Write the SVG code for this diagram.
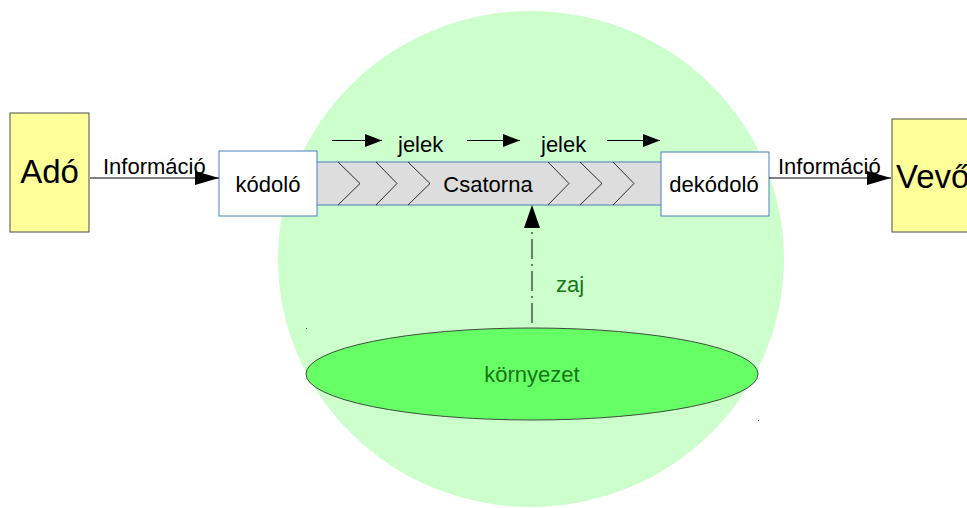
<svg xmlns="http://www.w3.org/2000/svg" width="967" height="508" viewBox="0 0 967 508">
<defs>
<style>
text{font-family:"Liberation Sans",Arial,sans-serif;font-size:22px;fill:#000}
.big{font-size:33px}
.green{fill:#187518}
.box{fill:#ffff99;stroke:#4d4d4d;stroke-width:1}
.codec{fill:#fff;stroke:#4a7ebb;stroke-width:1}
.conn{stroke:#000;stroke-width:1;fill:none}
.chev{stroke:#000;stroke-width:0.8;fill:none}
</style>
<marker id="ah" markerWidth="24" markerHeight="14" refX="24" refY="7" orient="auto" markerUnits="userSpaceOnUse">
<path d="M0,0 L24,7 L0,14 Z" fill="#000"/>
</marker>
<marker id="ahs" markerWidth="17" markerHeight="13" refX="17" refY="6.5" orient="auto" markerUnits="userSpaceOnUse">
<path d="M0,0 L17,6.5 L0,13 Z" fill="#000"/>
</marker>
</defs>
<rect width="967" height="508" fill="#fff"/>
<g id="environment-zone">
<ellipse cx="531" cy="259" rx="253" ry="248" fill="#ccffcc"/>
</g>
<g id="ado">
<rect class="box" x="10" y="113" width="79" height="119"/>
<text class="big" x="49.5" y="183" text-anchor="middle">Adó</text>
</g>
<g id="vevo">
<rect class="box" x="892" y="119" width="80" height="113"/>
<text class="big" x="896" y="188">Vevő</text>
</g>
<g id="csatorna">
<rect x="317" y="162" width="344" height="43" fill="#dddddd"/>
<line x1="317" y1="162" x2="661" y2="162" stroke="#4a7ebb"/>
<line x1="317" y1="205" x2="661" y2="205" stroke="#4a7ebb"/>
<polyline class="chev" points="338,162 360,183.5 338,205"/>
<polyline class="chev" points="376,162 397,183.5 376,205"/>
<polyline class="chev" points="408,162 430,183.5 408,205"/>
<polyline class="chev" points="548,162 569,183.5 548,205"/>
<polyline class="chev" points="580,162 602,183.5 580,205"/>
<polyline class="chev" points="613,162 634,183.5 613,205"/>
<text x="488" y="192" text-anchor="middle">Csatorna</text>
</g>
<g id="kodolo">
<rect class="codec" x="219" y="151" width="98" height="65"/>
<text x="268" y="192" text-anchor="middle">kódoló</text>
</g>
<g id="dekodolo">
<rect class="codec" x="661" y="152" width="108" height="64"/>
<text x="714" y="192" text-anchor="middle">dekódoló</text>
</g>
<g id="kornyezet">
<ellipse cx="532" cy="374" rx="226" ry="46" fill="#66ff66" stroke="#3d4d3d" stroke-width="1"/>
<text class="green" x="532" y="382" text-anchor="middle">környezet</text>
<rect x="306" y="328" width="1" height="1" fill="#555"/>
<rect x="758" y="420" width="1" height="1" fill="#3a7a3a"/>
</g>
<g id="connectors">
<line class="conn" x1="90" y1="178" x2="219" y2="178" marker-end="url(#ah)"/>
<text x="103" y="174">Információ</text>
<line class="conn" x1="769" y1="178" x2="891" y2="178" marker-end="url(#ah)"/>
<text x="778" y="174">Információ</text>
<line class="conn" x1="332" y1="140.5" x2="382" y2="140.5" marker-end="url(#ahs)"/>
<text x="398" y="152">jelek</text>
<line class="conn" x1="467" y1="140.5" x2="520" y2="140.5" marker-end="url(#ahs)"/>
<text x="541" y="152">jelek</text>
<line class="conn" x1="607" y1="140.5" x2="660" y2="140.5" marker-end="url(#ahs)"/>
<line x1="532" y1="323" x2="532" y2="228" stroke="#000" stroke-width="1" stroke-dasharray="20 5 2 5"/>
<path d="M532,205 L540,228 L524,228 Z" fill="#000"/>
<text class="green" x="556" y="292">zaj</text>
</g>
</svg>
